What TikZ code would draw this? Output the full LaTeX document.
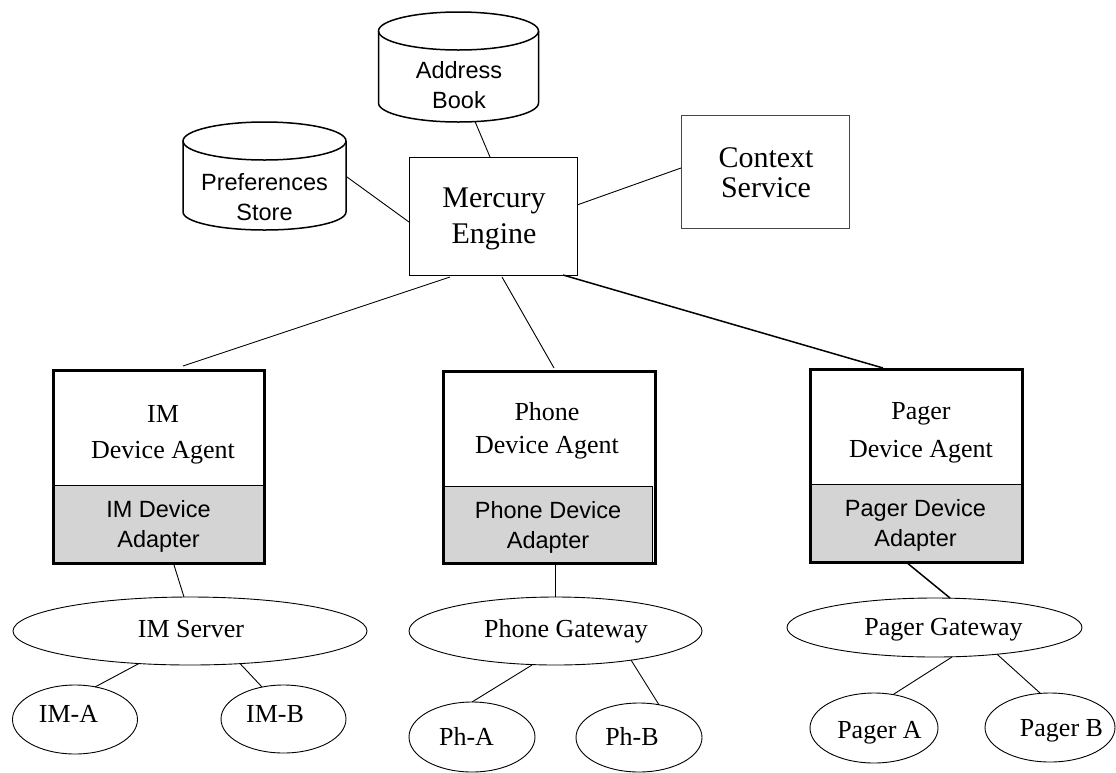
\documentclass[tikz,border=0pt]{standalone}
\usepackage{fontspec}
\setmainfont{Liberation Serif}
\setsansfont{Liberation Sans}
\usetikzlibrary{shapes.geometric}

% two centred lines whose reference point is the first baseline
\newcommand\twolines[2]{\begin{tabular}[t]{@{}c@{}}#1\\#2\end{tabular}}

\definecolor{adaptergray}{RGB}{212,212,212}
\definecolor{framegray}{RGB}{70,70,70}

\tikzset{
  wire/.style={line width=0.9pt},
  heavywire/.style={line width=1.5pt},
  cylline/.style={line width=1.5pt},
  plainbox/.style={draw, line width=1pt, inner sep=0pt, outer sep=0pt},
  hollow/.style={inner sep=0pt, outer sep=0pt},
  agentframe/.style={draw, line width=3pt, inner sep=0pt, outer sep=0pt},
  adapterbox/.style={draw, fill=adaptergray, line width=0.8pt, inner sep=0pt, outer sep=0pt},
  oval/.style={ellipse, draw, line width=0.9pt, inner sep=0pt, outer sep=0pt},
  txt/.style={anchor=base, inner sep=0pt, outer sep=0pt},
  serifbig/.style={txt, font=\fontsize{30}{36}\selectfont},
  serifmid/.style={txt, font=\fontsize{26}{36}\selectfont},
  sanslabel/.style={txt, font=\sffamily\fontsize{23.5}{30}\selectfont},
}

\begin{document}
\begin{tikzpicture}[x=1pt, y=1pt]
\useasboundingbox (0,0) rectangle (1116,-772);

% ---------- data stores (cylinders) ----------
\node[hollow, minimum width=163pt, minimum height=108pt] (pref) at (264.5,-176) {};
\draw[cylline] ([yshift=-19pt]pref.north west) -- ([yshift=18pt]pref.south west)
  arc[start angle=180, end angle=360, x radius=81.5pt, y radius=18pt]
  -- ([yshift=-19pt]pref.north east);
\draw[cylline] ([yshift=-19pt]pref.north) ellipse[x radius=81.5pt, y radius=19pt];
\node[sanslabel] (preftxt) at (264.5,-190) {\twolines{Preferences}{Store}};

\node[hollow, minimum width=160pt, minimum height=110pt] (addr) at (458.5,-67) {};
\draw[cylline] ([yshift=-19pt]addr.north west) -- ([yshift=19pt]addr.south west)
  arc[start angle=180, end angle=360, x radius=80pt, y radius=19pt]
  -- ([yshift=-19pt]addr.north east);
\draw[cylline] ([yshift=-19pt]addr.north) ellipse[x radius=80pt, y radius=19pt];
\node[sanslabel] (addrtxt) at (459,-78) {\twolines{Address}{Book}};

% ---------- engine and context service ----------
\node[plainbox, minimum width=168pt, minimum height=118pt] (merc) at (493,-216) {};
\node[serifbig] (merctxt) at (494,-207) {\twolines{Mercury}{Engine}};

\node[plainbox, draw=framegray, minimum width=168pt, minimum height=113pt] (ctx) at (765,-171.5) {};
\node[serifbig, font=\fontsize{30}{30}\selectfont] (ctxtxt) at (766,-167) {\twolines{Context}{Service}};

% ---------- device agents with their adapters ----------
\node[adapterbox, minimum width=211pt, minimum height=78pt] (imad) at (158.5,-524) {};
\node[agentframe, minimum width=211pt, minimum height=193pt] (imag) at (158.5,-466.5) {};
\node[serifmid] (imagtxt) at (163,-422) {\twolines{IM}{Device Agent}};
\node[sanslabel] (imadtxt) at (158.5,-517) {\twolines{IM Device}{Adapter}};

\node[adapterbox, minimum width=209pt, minimum height=77pt] (phad) at (547.5,-524.5) {};
\node[agentframe, minimum width=212pt, minimum height=192pt] (phag) at (549,-467) {};
\node[serifmid, font=\fontsize{26}{33}\selectfont] (phagtxt) at (547,-420) {\twolines{Phone}{Device Agent}};
\node[sanslabel] (phadtxt) at (548,-518) {\twolines{Phone Device}{Adapter}};

\node[adapterbox, minimum width=212pt, minimum height=78pt] (pgad) at (916,-523) {};
\node[agentframe, minimum width=212pt, minimum height=193pt] (pgag) at (916,-465.5) {};
\node[serifmid, font=\fontsize{26}{38}\selectfont] (pgagtxt) at (921,-419) {\twolines{Pager}{Device Agent}};
\node[sanslabel] (pgadtxt) at (915.5,-516) {\twolines{Pager Device}{Adapter}};

% ---------- servers and gateways ----------
\node[oval, minimum width=354pt, minimum height=68pt] (imsrv) at (190,-631) {};
\node[serifmid] (imsrvtxt) at (191,-637) {IM Server};
\node[oval, minimum width=293pt, minimum height=68pt] (phgw) at (555.5,-631) {};
\node[serifmid] (phgwtxt) at (566,-637) {Phone Gateway};
\node[oval, minimum width=295pt, minimum height=59pt] (pggw) at (934.5,-627.5) {};
\node[serifmid] (pggwtxt) at (943.5,-635) {Pager Gateway};

% ---------- end devices ----------
\node[oval, minimum width=125pt, minimum height=69pt] (ima) at (75,-719.5) {};
\node[serifmid] (imatxt) at (68.5,-722) {IM-A};
\node[oval, minimum width=125pt, minimum height=68pt] (imb) at (283.5,-719) {};
\node[serifmid] (imbtxt) at (275,-722) {IM-B};
\node[oval, minimum width=126pt, minimum height=70pt] (pha) at (472,-737) {};
\node[serifmid] (phatxt) at (466.5,-745) {Ph-A};
\node[oval, minimum width=126pt, minimum height=69pt] (phb) at (639,-737.5) {};
\node[serifmid] (phbtxt) at (632,-745) {Ph-B};
\node[oval, minimum width=128pt, minimum height=70pt] (pga) at (874,-728) {};
\node[serifmid] (pgatxt) at (879.5,-738) {Pager A};
\node[oval, minimum width=130pt, minimum height=69pt] (pgb) at (1050,-727.5) {};
\node[serifmid] (pgbtxt) at (1061.5,-736) {Pager B};

% ---------- connectors ----------
\draw[wire] ([xshift=1pt,yshift=-1pt]pref.east) -- ([yshift=-6pt]merc.west);
\draw[wire] ([xshift=16.5pt,yshift=0.5pt]addr.south) -- ([xshift=-3pt]merc.north);
\draw[wire] ([yshift=11pt]merc.east) -- ([yshift=3.5pt]ctx.west);

\draw[wire] ([xshift=-43pt,yshift=-2pt]merc.south) -- ([xshift=24.5pt,yshift=4pt]imag.north);
\draw[wire] ([xshift=9pt,yshift=-2pt]merc.south) -- ([xshift=5pt,yshift=3pt]phag.north);
\draw[heavywire] ([xshift=70pt]merc.south) -- ([xshift=-33pt,yshift=1pt]pgag.north);

\draw[wire] ([xshift=15.5pt,yshift=-2pt]imad.south) -- ([xshift=-6pt]imsrv.north);
\draw[wire] ([xshift=7.5pt]phad.south) -- ([xshift=7.5pt]phad.south |- phgw.north);
\draw[heavywire] ([xshift=-10pt]pgad.south) -- ([xshift=15.5pt]pggw.north);

\draw[wire] ([xshift=-51pt,yshift=1.5pt]imsrv.south) -- ([xshift=20pt,yshift=-2pt]ima.north);
\draw[wire] ([xshift=50pt,yshift=1.5pt]imsrv.south) -- ([xshift=-21.5pt,yshift=-2pt]imb.north);
\draw[wire] ([xshift=-23.5pt]phgw.south) -- (pha.north);
\draw[wire] ([xshift=75.5pt,yshift=5pt]phgw.south) -- ([xshift=20pt,yshift=-1.8pt]phb.north);
\draw[wire] ([xshift=17.5pt]pggw.south) -- ([xshift=19pt,yshift=-1.6pt]pga.north);
\draw[wire] ([xshift=62.5pt,yshift=2.8pt]pggw.south) -- ([xshift=-10pt]pgb.north);
\end{tikzpicture}
\end{document}
